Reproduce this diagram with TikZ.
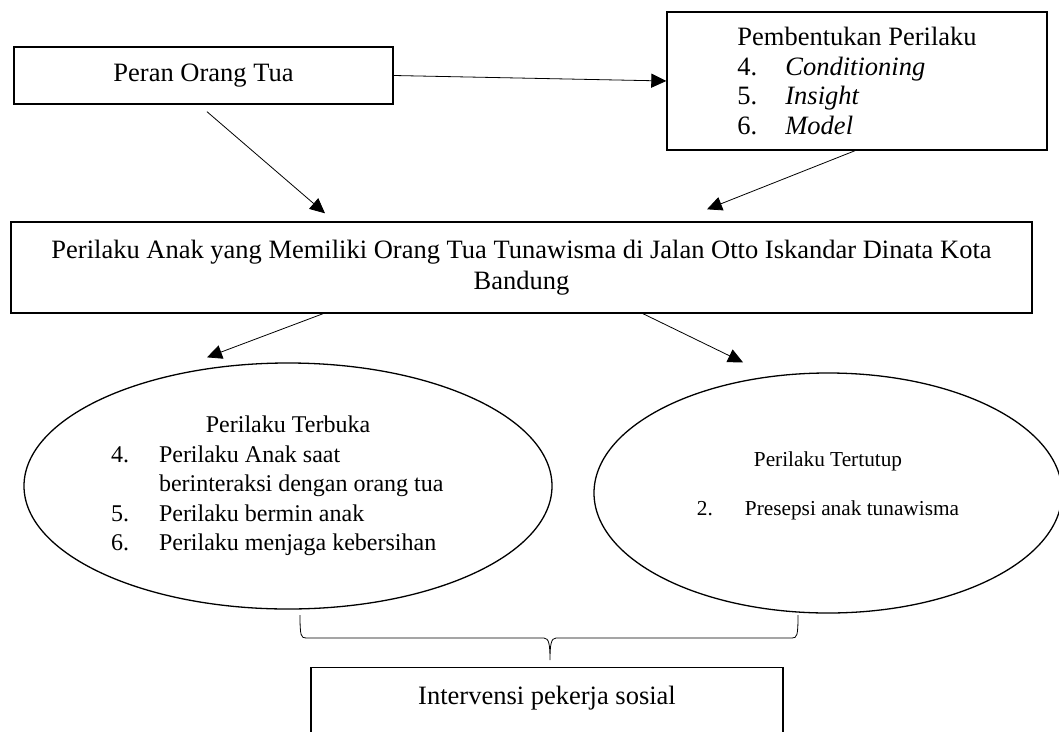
\documentclass[tikz,border=0pt]{standalone}
\usepackage{fontspec}
\setmainfont{Liberation Serif}
\usetikzlibrary{arrows.meta,shapes.geometric,calc}
\begin{document}
\begin{tikzpicture}[x=1pt,y=-1pt,>={Triangle[length=15pt,width=14pt]},
  kotak/.style={draw,line width=1.4pt,inner sep=0pt},
  oval/.style={draw,ellipse,line width=1.3pt,inner sep=0pt},
  panah/.style={->,line width=0.8pt},
  teks/.style={font=\fontsize{26.5}{29.5}\selectfont},
  sedang/.style={font=\fontsize{24}{29.5}\selectfont},
  kecil/.style={font=\fontsize{21.3}{24.5}\selectfont}]
\clip (0,0) rectangle (1059,731);
% kotak atas
\node[kotak,teks,minimum width=379,minimum height=57] (peran) at (203.5,75.5) {Peran Orang Tua};
\node[kotak,teks,align=left,minimum width=380,minimum height=138] (bentuk) at (857,81)
  {Pembentukan Perilaku\\
   \makebox[48pt][l]{4.}\textit{Conditioning}\\
   \makebox[48pt][l]{5.}\textit{Insight}\\
   \makebox[48pt][l]{6.}\textit{Model}};
\node[kotak,teks,align=center,minimum width=1021,minimum height=91] (anak) at (521.5,267.5)
  {Perilaku Anak yang Memiliki Orang Tua Tunawisma di Jalan Otto Iskandar Dinata Kota\\[1.5pt]
   Bandung};
% elips
\node[oval,sedang,minimum width=528,minimum height=246] (terbuka) at (288,486)
  {\begin{tabular}{@{}p{48pt}@{}p{306pt}@{}}
   \multicolumn{2}{@{}c@{}}{Perilaku Terbuka}\\
   4. & Perilaku Anak saat\\
      & berinteraksi dengan orang tua\\
   5. & Perilaku bermin anak\\
   6. & Perilaku menjaga kebersihan
   \end{tabular}};
\node[oval,kecil,minimum width=468,minimum height=240] (tertutup) at (828,493)
  {\begin{tabular}{@{}p{48pt}@{}l@{}}
   \multicolumn{2}{@{}c@{}}{Perilaku Tertutup}\\[24.5pt]
   2. & Presepsi anak tunawisma\\[14.5pt]
   \end{tabular}};
\node[kotak,teks,anchor=north,minimum width=472,text height=37pt,text depth=80pt] (intervensi) at (547,667)
  {Intervensi pekerja sosial};
% panah
\draw[panah] (peran.east) -- (bentuk.west);
\draw[panah] ($(peran.south)+(3.5,7)$) -- ($(anak.north)+(-196.5,-8)$);
\draw[panah] ($(bentuk.south)+(-2,0)$) -- ($(anak.north)+(185.5,-12)$);
\draw[panah] ($(anak.south)+(-198.5,0)$) -- ($(terbuka.north)+(-81,-5)$);
\draw[panah] ($(anak.south)+(121.5,0)$) -- ($(tertutup.north)+(-85,-10)$);
% kurung kurawal
\draw[line width=0.8pt] (300,615) .. controls (300,636) and (301,638) .. (306,638) -- (544,638)
  .. controls (549,638) and (550,645) .. (550,660)
  .. controls (550,645) and (551,638) .. (556,638) -- (792,638)
  .. controls (797,638) and (798,636) .. (798,615);
\end{tikzpicture}
\end{document}
